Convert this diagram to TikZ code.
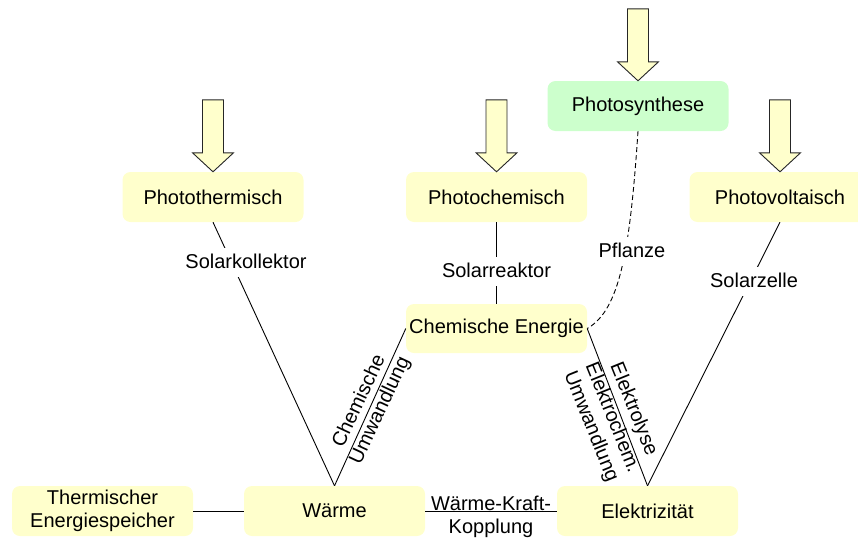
\documentclass[tikz,border=0pt]{standalone}
\usepackage{fontspec}
\setmainfont{Liberation Sans}
\definecolor{boxyellow}{HTML}{FFFFCC}
\definecolor{boxgreen}{HTML}{CCFFCC}
\begin{document}
\begin{tikzpicture}[x=1pt,y=-1pt,
  box/.style={fill=boxyellow, rounded corners=8pt, minimum width=181pt, minimum height=50pt, inner sep=0pt, align=center, font=\fontsize{20}{23}\selectfont},
  greenbox/.style={box, fill=boxgreen},
  lbl/.style={font=\fontsize{20}{23}\selectfont, inner sep=0pt, align=center},
  wlbl/.style={lbl, fill=white, inner xsep=2pt, inner ysep=5pt, text height=15pt, text depth=4pt},
  conn/.style={draw=black, line width=0.9pt},
  sunarrow/.style={draw=black!85, fill=boxyellow, line width=0.9pt, line join=miter}]
\useasboundingbox (0,0) rectangle (858,538);
% boxes
\node[box] (pth) at (213,197) {Photothermisch};
\node[box] (pch) at (496.5,197) {Photochemisch};
\node[greenbox] (psy) at (638,106) {Photosynthese};
\node[box] (pvo) at (780,197) {Photovoltaisch};
\node[box, minimum height=49pt] (che) at (496.5,328.5) {Chemische Energie};
\node[box] (tes) at (102.5,511) {Thermischer\\Energiespeicher};
\node[box] (war) at (334.5,511) {Wärme};
\node[box] (ele) at (647.5,511) {Elektrizität};
% sun arrows
\foreach \n in {pth,pch,psy,pvo}{
  \draw[sunarrow] (\n.north) -- ++(-20.5pt,19pt) -- ++(10pt,0pt) -- ++(0pt,53pt)
    -- ++(21pt,0pt) -- ++(0pt,-53pt) -- ++(10pt,0pt) -- cycle;
}
% connectors
\draw[conn] (tes) -- (war);
\draw[conn] (war) -- (ele);
\draw[conn] (pth.south) -- (war.north);
\draw[conn] (pch.south) -- (che.north);
\draw[conn] (che.west) -- (war.north);
\draw[conn] (che.east) -- (ele.north);
\draw[conn] (pvo.south) -- (ele.north);
\draw[conn, dash pattern=on 5pt off 3pt] (psy.south) .. controls (630,250) and (620,310) .. (che.east);
% labels
\node[wlbl, anchor=base] (lsk) at (246,268) {Solarkollektor};
\node[wlbl, anchor=base] (lsr) at (496.5,277) {Solarreaktor};
\node[wlbl, anchor=base] (lpf) at (632,257) {Pflanze};
\node[wlbl, anchor=base] (lsz) at (754,287) {Solarzelle};
\node[lbl, rotate=65] (lcu) at (370,406) {Chemische\\Umwandlung};
\node[lbl, rotate=-68] (lel) at (612,418) {Elektrolyse\\Elektrochem.\\Umwandlung};
\node[lbl, anchor=north] (lwk) at (491,495.5) {Wärme-Kraft-\\Kopplung};
\end{tikzpicture}
\end{document}
